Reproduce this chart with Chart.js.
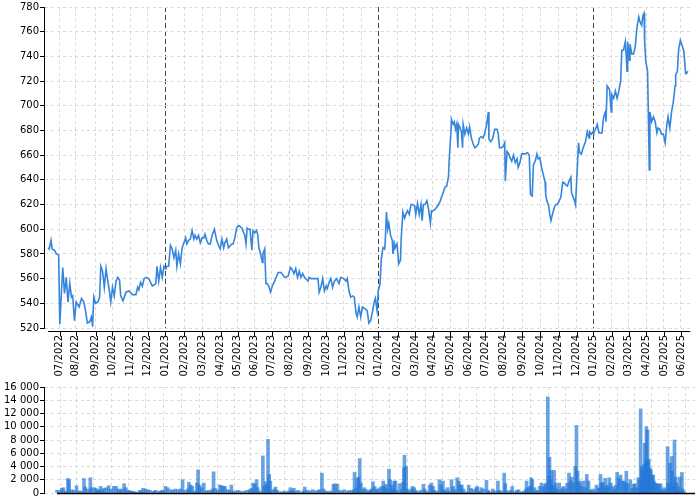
<!DOCTYPE html>
<html>
<head>
<meta charset="utf-8">
<script src="https://cdn.jsdelivr.net/npm/chart.js@4.4.1/dist/chart.umd.min.js"></script>
<style>
  html, body { margin: 0; padding: 0; background: #fff; }
  canvas { display: block; }
</style>
</head>
<body>
<canvas id="price-chart" width="700" height="380"></canvas>
<canvas id="volume-chart" width="700" height="120"></canvas>
<script>
// x is a session index (one unit per trading step)
const monthLabels = [
  "07/2022","08/2022","09/2022","10/2022","11/2022","12/2022",
  "01/2023","02/2023","03/2023","04/2023","05/2023","06/2023",
  "07/2023","08/2023","09/2023","10/2023","11/2023","12/2023",
  "01/2024","02/2024","03/2024","04/2024","05/2024","06/2024",
  "07/2024","08/2024","09/2024","10/2024","11/2024","12/2024",
  "01/2025","02/2025","03/2025","04/2025","05/2025","06/2025"
];
const monthStarts = [
  20, 47, 81, 110, 140, 170,
  200, 233, 263, 295, 324, 352,
  382, 413, 444, 475, 505, 536,
  564, 597, 627, 657, 687, 718,
  747, 778, 810, 841, 872, 903,
  931, 963, 992, 1022, 1052, 1081
];
const xRange = [-7, 1097];
const priceRange = [520, 780];
const volumeRange = [0, 16000];

// [x, close]
const priceSeries = [
  [0,585],[2,584],[5,591],[7,584],[11,583],[14,580],[18,579],[20,523],[25,569],[28,548],
  [31,561],[34,541],[37,556],[40,545],[42,546],[45,526],[48,541],[53,537],[57,544],[61,541],
  [64,534],[67,524],[71,525],[74,529],[76,521],[78,545],[81,540],[85,541],[88,545],[90,570],
  [93,566],[96,553],[99,568],[102,558],[105,549],[107,541],[110,553],[113,546],[116,558],[119,561],
  [122,559],[124,546],[128,542],[133,549],[138,550],[144,547],[150,547],[153,553],[155,551],[158,557],
  [161,554],[164,560],[167,561],[172,560],[178,554],[184,556],[186,570],[189,558],[192,569],[195,561],
  [198,570],[201,568],[203,570],[206,570],[209,587],[212,584],[215,577],[218,583],[220,570],[223,580],
  [226,572],[229,585],[232,589],[235,593],[237,588],[240,591],[243,592],[246,599],[249,592],[251,595],
  [254,592],[257,595],[260,589],[263,593],[266,593],[268,596],[271,591],[274,588],[277,588],[280,595],
  [284,600],[288,591],[291,587],[294,584],[297,592],[300,585],[302,589],[305,592],[308,585],[314,588],
  [316,588],[319,593],[322,601],[326,603],[331,601],[336,595],[338,588],[340,601],[342,600],[345,600],
  [348,583],[350,599],[353,597],[356,599],[358,596],[360,585],[363,580],[366,573],[367,580],[370,584],
  [372,556],[374,556],[377,554],[380,549],[383,554],[387,558],[393,565],[398,565],[404,561],[410,562],
  [414,569],[416,568],[420,564],[423,568],[426,561],[429,566],[432,561],[435,564],[438,561],[444,558],
  [446,561],[449,560],[455,560],[461,560],[463,549],[466,553],[469,560],[472,550],[475,554],[477,552],
  [480,557],[483,560],[486,553],[489,558],[493,560],[497,556],[500,561],[505,560],[509,558],[511,560],
  [514,550],[517,545],[520,546],[523,545],[526,532],[528,529],[531,537],[534,529],[537,537],[540,536],
  [545,534],[548,524],[551,526],[554,533],[557,541],[559,544],[562,534],[564,550],[567,556],[569,575],
  [572,585],[575,584],[576,591],[578,614],[580,600],[582,605],[585,595],[588,591],[589,580],[592,588],
  [593,585],[596,588],[599,572],[602,575],[603,591],[606,614],[609,609],[611,612],[614,615],[617,612],
  [620,620],[623,620],[626,619],[628,612],[631,621],[634,612],[637,620],[639,607],[641,620],[644,620],
  [647,623],[650,616],[653,605],[655,615],[658,615],[661,616],[664,618],[667,620],[670,623],[672,626],
  [675,630],[678,634],[681,635],[684,643],[685,655],[688,678],[689,689],[692,685],[694,687],[696,681],
  [698,685],[700,666],[701,685],[703,683],[706,679],[708,666],[709,685],[712,677],[715,682],[718,677],
  [720,683],[723,674],[726,669],[729,666],[732,667],[735,669],[737,674],[740,675],[743,674],[746,678],
  [749,685],[752,695],[753,673],[756,671],[759,673],[763,681],[767,681],[769,677],[771,666],[774,666],
  [777,667],[780,670],[781,639],[784,663],[787,661],[789,658],[792,655],[795,660],[798,654],[801,657],
  [803,650],[806,654],[809,661],[814,661],[819,662],[822,660],[824,628],[827,627],[829,652],[832,655],
  [835,661],[837,657],[840,658],[843,650],[846,644],[849,638],[850,628],[852,623],[855,619],[857,612],
  [859,607],[862,613],[865,618],[867,620],[870,620],[873,623],[876,626],[879,638],[881,638],[884,636],
  [887,635],[890,639],[893,642],[894,630],[897,626],[900,622],[901,620],[904,650],[906,670],[908,662],
  [911,661],[914,666],[918,671],[921,679],[924,674],[925,679],[928,677],[931,679],[932,678],[935,681],
  [938,685],[941,678],[944,678],[946,678],[949,691],[952,695],[953,687],[955,716],[958,714],[959,713],
  [962,695],[963,709],[966,706],[969,712],[972,706],[975,712],[978,720],[980,745],[983,745],[986,752],
  [989,728],[990,752],[993,737],[994,750],[997,742],[1000,742],[1003,748],[1006,764],[1009,772],[1011,768],
  [1014,765],[1016,773],[1018,775],[1019,752],[1021,736],[1024,728],[1025,703],[1027,648],[1028,695],[1031,687],
  [1034,691],[1037,687],[1040,678],[1042,682],[1045,681],[1048,677],[1051,677],[1054,670],[1057,685],[1059,691],
  [1062,682],[1065,695],[1068,703],[1071,716],[1072,725],[1075,728],[1077,745],[1080,753],[1083,749],[1086,744],
  [1089,726],[1090,726],[1093,728]
];

// [x, volume]
const volumeSeries = [
  [0,400],[4,350],[8,700],[11,800],[15,300],[19,2200],[21,2000],[25,500],[29,400],[34,1100],
  [38,300],[42,300],[47,2200],[49,900],[54,600],[58,2300],[60,800],[65,800],[68,700],[71,400],
  [73,500],[76,1000],[79,500],[82,700],[86,800],[90,1100],[94,600],[99,1000],[103,1000],[107,600],
  [110,400],[113,600],[117,1400],[120,800],[124,400],[127,300],[130,300],[133,200],[136,200],[140,100],
  [144,400],[147,300],[150,700],[154,600],[158,500],[162,400],[167,200],[170,300],[172,400],[177,200],
  [180,300],[183,400],[186,300],[189,1000],[193,800],[198,500],[202,400],[206,600],[211,500],[215,600],
  [219,2000],[223,400],[228,600],[230,1600],[233,1200],[236,1000],[240,300],[244,1500],[246,3500],[249,1200],
  [252,800],[256,1500],[260,300],[264,400],[268,300],[271,600],[273,3200],[276,700],[280,400],[284,1200],
  [287,1100],[290,1000],[293,1000],[297,500],[301,400],[304,1200],[308,300],[311,200],[315,400],[319,300],
  [324,200],[328,300],[332,400],[336,500],[339,700],[342,1500],[345,1300],[348,2000],[350,800],[354,300],
  [359,5600],[361,1100],[364,1700],[366,1200],[368,8100],[370,2800],[372,1800],[375,400],[379,600],[381,900],
  [384,400],[388,200],[393,200],[397,300],[401,100],[404,300],[407,800],[410,400],[413,700],[417,300],
  [421,400],[427,200],[431,300],[432,900],[437,400],[441,300],[446,500],[450,300],[455,400],[458,500],
  [462,3000],[465,600],[469,300],[473,200],[477,300],[482,1300],[485,1400],[489,1300],[493,400],[497,300],
  [501,500],[506,300],[510,400],[514,300],[517,500],[519,3100],[522,800],[524,2200],[526,2400],[528,5200],
  [530,1500],[533,500],[536,800],[539,500],[543,300],[546,400],[548,600],[551,1700],[554,1000],[557,600],
  [560,500],[563,800],[567,1000],[569,1800],[571,1000],[574,1300],[576,600],[579,3600],[581,2000],[584,1200],
  [586,600],[588,1800],[590,1800],[593,400],[597,1400],[601,500],[603,1600],[605,3800],[606,5700],[609,4000],
  [611,600],[614,300],[618,600],[620,1000],[623,800],[626,400],[630,200],[634,400],[639,1300],[641,600],
  [645,300],[650,1200],[653,1500],[656,1000],[658,400],[663,300],[667,2000],[670,1200],[673,1800],[675,500],
  [678,300],[681,800],[684,300],[688,2000],[691,1000],[694,500],[698,2300],[701,1800],[704,1200],[706,1200],
  [709,600],[714,200],[718,1200],[722,700],[726,500],[731,800],[733,1000],[737,300],[740,800],[744,600],
  [749,1900],[752,400],[755,200],[760,600],[764,300],[769,1800],[771,400],[775,300],[780,3000],[782,1400],
  [786,300],[791,400],[794,1000],[798,200],[802,400],[805,500],[810,200],[814,300],[818,600],[819,1800],
  [822,800],[825,1000],[827,2300],[829,2000],[833,800],[836,400],[839,300],[842,1000],[845,1500],[848,900],
  [851,1300],[853,1500],[856,14500],[858,2500],[859,5400],[861,2000],[862,3400],[864,1200],[867,3400],[868,800],
  [870,1500],[873,600],[876,1500],[879,400],[881,800],[884,1000],[887,600],[890,1500],[893,3000],[896,1800],
  [898,2400],[901,1500],[904,4000],[906,10200],[908,3300],[910,1500],[912,1800],[915,1000],[918,1800],[921,800],
  [924,2800],[927,1800],[930,500],[932,300],[935,600],[938,300],[941,1200],[944,800],[947,700],[948,2800],
  [950,1500],[952,1600],[955,800],[956,2200],[959,1200],[961,800],[963,2300],[966,1500],[969,1000],[972,600],
  [975,1200],[977,3100],[980,2200],[983,2700],[986,1800],[989,1800],[992,1500],[993,3300],[996,1400],[1000,2000],
  [1003,700],[1006,1300],[1008,1400],[1011,800],[1014,2300],[1016,2000],[1018,12700],[1020,4000],[1021,3500],[1023,2800],
  [1024,4300],[1025,7500],[1027,5000],[1028,10000],[1030,9500],[1031,4700],[1032,5100],[1034,3800],[1036,3500],[1038,2700],
  [1040,2700],[1041,1800],[1043,1500],[1046,1400],[1048,1400],[1050,1300],[1053,1400],[1055,500],[1057,300],[1059,800],
  [1062,500],[1065,7000],[1066,1500],[1068,800],[1069,4500],[1072,5500],[1073,3300],[1075,1000],[1077,8000],[1079,2400],
  [1080,1500],[1083,1000],[1084,500],[1086,2400],[1088,300],[1090,3100],[1091,600],[1093,300]
];

const LINE_BLUE = "#3585dc";
const BAR_BLUE  = "rgba(36,120,214,0.68)";
const GRID      = "#d9d9d9";
const FONT      = { family: "'DejaVu Sans', sans-serif", size: 10 };

Chart.defaults.font = FONT;
Chart.defaults.color = "#000";

const isYearStart = i => (monthLabels[i] || "").startsWith("01/");

// axis line drawn a little off the plot, like the reference
const offsetAxis = {
  id: "offsetAxis",
  afterDatasetsDraw(chart, args, opts) {
    const { ctx, chartArea, scales: { x } } = chart;
    const y0 = Math.round(chartArea.bottom + opts.gap) + 0.5;
    ctx.save();
    ctx.strokeStyle = "#000";
    ctx.lineWidth = opts.width;
    ctx.beginPath();
    ctx.moveTo(x.getPixelForValue(priceSeries[0][0]), y0);
    ctx.lineTo(chartArea.right, y0);
    ctx.stroke();
    if (opts.ticks) {
      ctx.lineWidth = 1;
      ctx.beginPath();
      monthStarts.forEach(v => {
        const px = Math.round(x.getPixelForValue(v)) + 0.5;
        ctx.moveTo(px, y0);
        ctx.lineTo(px, y0 + 5);
      });
      ctx.stroke();
    }
    ctx.restore();
  }
};

const monthAxis = (showLabels, yearLines) => ({
  type: "linear",
  min: xRange[0],
  max: xRange[1],
  afterBuildTicks: s => { s.ticks = monthStarts.map(v => ({ value: v })); },
  afterFit: s => { s.height = showLabels ? 52 : 6; },
  ticks: {
    display: showLabels,
    autoSkip: false,
    minRotation: 90,
    maxRotation: 90,
    padding: 7,
    callback: (v, i) => monthLabels[i]
  },
  grid: {
    drawTicks: false,
    color: c => (yearLines && isYearStart(c.index)) ? "#444" : GRID
  },
  border: {
    display: false,
    dash: c => (yearLines && isYearStart(c.index)) ? [5, 3] : [3, 3]
  }
});

const valueAxis = (range, step, fmt) => ({
  min: range[0],
  max: range[1],
  afterFit: s => { s.width = 44; },
  ticks: { stepSize: step, autoSkip: false, padding: 1, callback: fmt },
  grid: { color: GRID, tickColor: "#000", tickLength: 4, tickWidth: 1 },
  border: { display: true, color: "#000", width: 1, dash: [3, 3] }
});

new Chart(document.getElementById("price-chart"), {
  type: "line",
  data: {
    datasets: [{
      data: priceSeries.map(([x, y]) => ({ x, y })),
      borderColor: LINE_BLUE,
      borderWidth: 1.6,
      pointRadius: 0,
      tension: 0,
      fill: false
    }]
  },
  options: {
    responsive: false,
    animation: false,
    devicePixelRatio: 1,
    layout: { padding: { top: 5, right: 5, left: 0, bottom: 0 } },
    plugins: {
      legend: { display: false },
      tooltip: { enabled: false },
      offsetAxis: { gap: 3, width: 1.2, ticks: true }
    },
    scales: {
      x: monthAxis(true, true),
      y: valueAxis(priceRange, 20, v => v)
    }
  },
  plugins: [offsetAxis]
});

new Chart(document.getElementById("volume-chart"), {
  type: "bar",
  data: {
    datasets: [{
      data: volumeSeries.map(([x, y]) => ({ x, y })),
      backgroundColor: BAR_BLUE,
      borderWidth: 0,
      barThickness: 3
    }]
  },
  options: {
    responsive: false,
    animation: false,
    devicePixelRatio: 1,
    layout: { padding: { top: 7, right: 5, left: 0, bottom: 0 } },
    plugins: {
      legend: { display: false },
      tooltip: { enabled: false },
      offsetAxis: { gap: 0, width: 1.5, ticks: false }
    },
    scales: {
      x: monthAxis(false, false),
      y: valueAxis(volumeRange, 2000,
        v => String(v).replace(/\B(?=(\d{3})+(?!\d))/g, " "))
    }
  },
  plugins: [offsetAxis]
});
</script>
</body>
</html>
